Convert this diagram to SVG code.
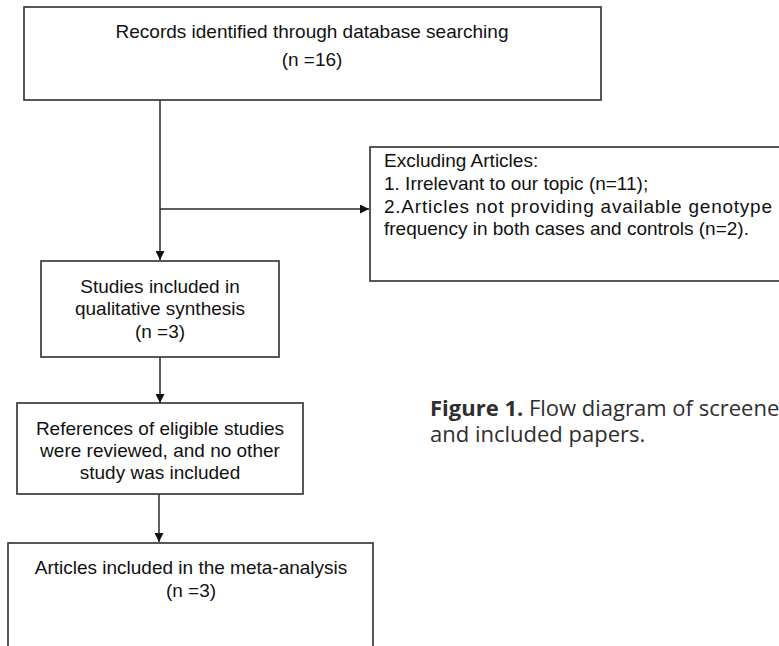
<svg xmlns="http://www.w3.org/2000/svg" width="779" height="646" viewBox="0 0 779 646">
  <defs>
    <marker id="arrow" viewBox="0 0 10 10" refX="10" refY="5" markerWidth="9" markerHeight="9" markerUnits="userSpaceOnUse" orient="auto">
      <path d="M0,0 L10,5 L0,10 z" fill="#111"/>
    </marker>
    <style>
      .box { fill: #fff; stroke: #3a3a3a; stroke-width: 1.7; }
      .edge { fill: none; stroke: #2a2a2a; stroke-width: 1.5; }
      .t { font-family: "Liberation Sans", Arial, sans-serif; font-size: 19px; fill: #111; }
      .c { text-anchor: middle; }
      .cap { font-family: "Open Sans", "DejaVu Sans", sans-serif; font-size: 22px; fill: #2e2e2e; }
    </style>
  </defs>
  <rect width="779" height="646" fill="#fff"/>

  <!-- connectors -->
  <g id="connectors">
    <line class="edge" x1="160" y1="100" x2="160" y2="260" marker-end="url(#arrow)"/>
    <line class="edge" x1="160" y1="209" x2="369" y2="209" marker-end="url(#arrow)"/>
    <line class="edge" x1="160" y1="357" x2="160" y2="403" marker-end="url(#arrow)"/>
    <line class="edge" x1="159" y1="494" x2="159" y2="542" marker-end="url(#arrow)"/>
  </g>

  <!-- records identified -->
  <g id="records">
    <rect class="box" x="24" y="7" width="577" height="93"/>
    <text class="t c" x="312" y="38">Records identified through database searching</text>
    <text class="t c" x="312" y="66">(n =16)</text>
  </g>

  <!-- exclusions -->
  <g id="excluded">
    <rect class="box" x="370" y="147" width="420" height="134"/>
    <text class="t" x="384" y="167">Excluding Articles:</text>
    <text class="t" x="384" y="190">1. Irrelevant to our topic (n=11);</text>
    <text class="t" x="384" y="213" textLength="388" lengthAdjust="spacing">2.Articles not providing available genotype</text>
    <text class="t" x="384" y="235">frequency in both cases and controls (n=2).</text>
  </g>

  <!-- qualitative synthesis -->
  <g id="qualitative">
    <rect class="box" x="41" y="261" width="238" height="96"/>
    <text class="t c" x="160" y="293">Studies included in</text>
    <text class="t c" x="160" y="315">qualitative synthesis</text>
    <text class="t c" x="160" y="338">(n =3)</text>
  </g>

  <!-- reference review -->
  <g id="references">
    <rect class="box" x="17" y="403" width="286" height="91"/>
    <text class="t c" x="160" y="435">References of eligible studies</text>
    <text class="t c" x="160" y="457">were reviewed, and no other</text>
    <text class="t c" x="160" y="479">study was included</text>
  </g>

  <!-- meta-analysis -->
  <g id="meta">
    <rect class="box" x="8" y="543" width="365" height="120"/>
    <text class="t c" x="191" y="574">Articles included in the meta-analysis</text>
    <text class="t c" x="191" y="597">(n =3)</text>
  </g>

  <!-- caption -->
  <g id="caption">
    <text class="cap" x="430" y="416"><tspan font-weight="bold">Figure 1.</tspan> Flow diagram of screened</text>
    <text class="cap" x="430" y="442">and included papers.</text>
  </g>
</svg>
